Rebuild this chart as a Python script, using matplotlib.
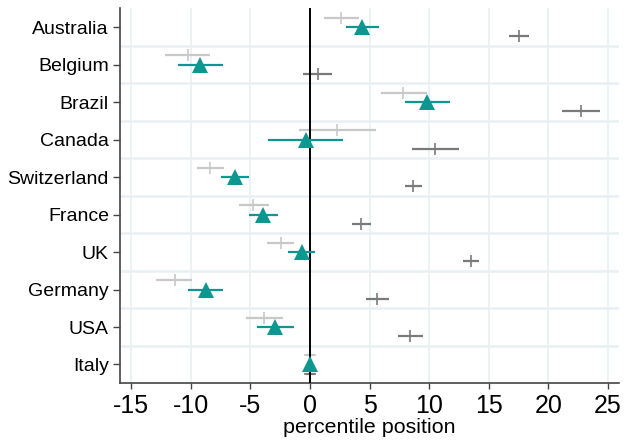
import matplotlib
matplotlib.use("Agg")
import matplotlib.pyplot as plt
import numpy as np

plt.rcParams['font.family'] = ['Liberation Sans', 'DejaVu Sans']

# Data
countries = ["Australia", "Belgium", "Brazil", "Canada", "Switzerland",
             "France", "UK", "Germany", "USA", "Italy"]

# light grey series: point estimate, lower, upper
light_est = [2.6, -10.25, 7.8, 2.3, -8.35, -4.75, -2.45, -11.35, -3.85, 0.0]
light_lo = [1.2, -12.15, 5.95, -0.9, -9.5, -5.95, -3.6, -12.9, -5.4, -0.3]
light_hi = [4.1, -8.35, 9.8, 5.5, -7.2, -3.4, -1.3, -9.85, -2.25, 0.35]

# teal series (triangles)
teal_est = [4.4, -9.2, 9.85, -0.35, -6.3, -3.9, -0.7, -8.75, -2.9, 0.0]
teal_lo = [3.0, -11.05, 7.95, -3.5, -7.45, -5.15, -1.85, -10.25, -4.4, 0.0]
teal_hi = [5.8, -7.3, 11.75, 2.75, -5.15, -2.65, 0.4, -7.25, -1.3, 0.0]

# dark grey series
dark_est = [17.5, 0.7, 22.7, 10.5, 8.65, 4.25, 13.5, 5.6, 8.4, 0.0]
dark_lo = [16.7, -0.55, 21.1, 8.55, 8.0, 3.5, 12.8, 4.7, 7.35, -0.35]
dark_hi = [18.4, 1.85, 24.3, 12.5, 9.4, 5.1, 14.2, 6.6, 9.45, 0.4]

xticks = [-15, -10, -5, 0, 5, 10, 15, 20, 25]

light_col = "#c8c8c8"
teal_col = "#0e9690"
dark_col = "#7a7a7a"
grid_col = "#e8f0f2"

fig = plt.figure(figsize=(6.25, 4.41), dpi=100)
ax = fig.add_axes([0.192, 0.131, 0.798, 0.85])

y = np.arange(len(countries))

ax.hlines(y - 0.25, light_lo, light_hi, color=light_col, lw=1.6, zorder=3)
ax.plot(light_est, y - 0.25, '+', color=light_col, ms=9, mew=1.2, zorder=3)

ax.hlines(y + 0.25, dark_lo, dark_hi, color=dark_col, lw=1.6, zorder=3)
ax.plot(dark_est, y + 0.25, '+', color=dark_col, ms=9, mew=1.2, zorder=3)

ax.axvline(0, color="black", lw=1.4, zorder=4)

ax.hlines(y, teal_lo, teal_hi, color=teal_col, lw=1.6, zorder=5)
ax.plot(teal_est, y, '^', color=teal_col, ms=12, mew=0, zorder=6)

ax.set_xlim(-15.93, 25.9)
ax.set_ylim(len(countries) - 0.5, -0.5)
ax.set_xticks(xticks)
ax.set_xticklabels([str(t) for t in xticks], fontsize=18)
ax.set_yticks(y)
ax.set_yticklabels(countries, fontsize=14)

ax.set_yticks(np.arange(len(countries) - 1) + 0.5, minor=True)
ax.grid(True, axis='x', which='major', color=grid_col, lw=1.2, zorder=0)
ax.grid(True, axis='y', which='minor', color=grid_col, lw=1.8, zorder=0)
ax.tick_params(axis='y', which='minor', length=0)
ax.tick_params(axis='x', which='major', length=4, width=1, color="#444444", pad=4)
ax.tick_params(axis='y', which='major', length=5, width=1, color="#444444", pad=3)

for s in ["top", "right"]:
    ax.spines[s].set_visible(False)
for s in ["left", "bottom"]:
    ax.spines[s].set_color("#444444")
    ax.spines[s].set_linewidth(1.2)

ax.set_xlabel("percentile position", fontsize=15.4, labelpad=0)

fig.savefig("out.png", dpi=100)
